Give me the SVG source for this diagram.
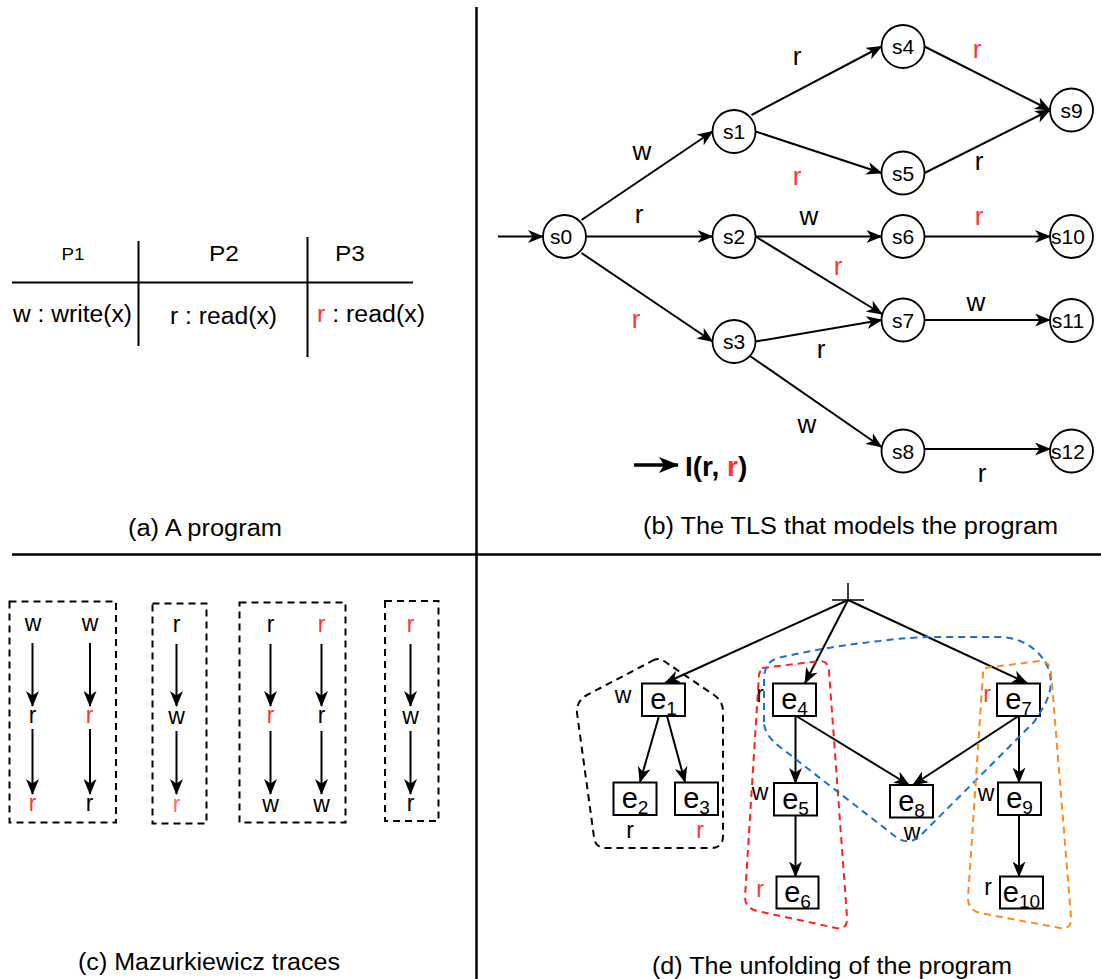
<svg xmlns="http://www.w3.org/2000/svg" width="1101" height="979" viewBox="0 0 1101 979">
<style>
text{font-family:"Liberation Sans",Arial,sans-serif;fill:#000}
.red{fill:#ff3333}
.pink{fill:#ff6b6b}
.cap{font-size:23px}
.lbl{font-size:26px;text-anchor:middle}
.sl{font-size:21px;text-anchor:middle}
.tl{font-size:23px;text-anchor:middle}
.el{font-size:23px;text-anchor:middle}
.ev{font-size:29px;text-anchor:middle}
.sub{font-size:19px}
.div{stroke:#000;stroke-width:2.5}
.tline{stroke:#000;stroke-width:2}
.st{fill:#fff;stroke:#000;stroke-width:1.8}
.bx{fill:#fff;stroke:#000;stroke-width:2}
.e{stroke:#000;stroke-width:2;fill:none;marker-end:url(#ah)}
.dash{fill:none;stroke-width:2;stroke-dasharray:7 5}
</style>
<defs>
<marker id="ah" viewBox="0 0 16 13" refX="15" refY="6.5" markerWidth="16" markerHeight="13" markerUnits="userSpaceOnUse" orient="auto">
<path d="M0,0 L16,6.5 L0,13 L4.5,6.5 Z" fill="#000"/>
</marker>
<marker id="ahL" viewBox="0 0 20 16" refX="19" refY="8" markerWidth="20" markerHeight="16" markerUnits="userSpaceOnUse" orient="auto">
<path d="M0,0 L20,8 L0,16 L5,8 Z" fill="#000"/>
</marker>
</defs>
<rect width="1101" height="979" fill="#fff"/>

<g id="dividers">
<line class="div" x1="476.5" y1="7" x2="476.5" y2="979"/>
<line class="div" x1="12" y1="554.5" x2="1101" y2="554.5"/>
</g>

<g id="captions">
<text class="cap" x="128" y="536" textLength="154" lengthAdjust="spacingAndGlyphs">(a) A program</text>
<text class="cap" x="643" y="534" textLength="415" lengthAdjust="spacingAndGlyphs">(b) The TLS that models the program</text>
<text class="cap" x="78" y="970" textLength="262" lengthAdjust="spacingAndGlyphs">(c) Mazurkiewicz traces</text>
<text class="cap" x="652" y="974" textLength="360" lengthAdjust="spacingAndGlyphs">(d) The unfolding of the program</text>
</g>

<g id="program-table">
<line class="tline" x1="12" y1="282.5" x2="413" y2="282.5"/>
<line class="tline" x1="138.5" y1="241" x2="138.5" y2="346"/>
<line class="tline" x1="307.5" y1="237" x2="307.5" y2="357"/>
<text x="61.5" y="260" style="font-size:17px" textLength="23" lengthAdjust="spacingAndGlyphs">P1</text>
<text x="209" y="261" style="font-size:22px" textLength="30" lengthAdjust="spacingAndGlyphs">P2</text>
<text x="335" y="261" style="font-size:22px" textLength="30" lengthAdjust="spacingAndGlyphs">P3</text>
<text x="13" y="322" style="font-size:23px" textLength="119" lengthAdjust="spacingAndGlyphs">w : write(x)</text>
<text x="170" y="324" style="font-size:23px" textLength="107" lengthAdjust="spacingAndGlyphs">r : read(x)</text>
<text x="317" y="322" style="font-size:23px" textLength="108" lengthAdjust="spacingAndGlyphs"><tspan class="red">r</tspan> : read(x)</text>
</g>

<g id="tls-edges">
<line class="e" x1="498" y1="236.5" x2="543" y2="236.5"/>
<line class="e" x1="581.5" y1="220" x2="712.5" y2="131.5"/>
<line class="e" x1="586" y1="236.5" x2="712.5" y2="236.5"/>
<line class="e" x1="581.5" y1="253" x2="712.5" y2="341.5"/>
<line class="e" x1="751.5" y1="115" x2="881.5" y2="46.5"/>
<line class="e" x1="755.5" y1="131.5" x2="881.5" y2="173"/>
<line class="e" x1="924.5" y1="46.5" x2="1050" y2="110"/>
<line class="e" x1="924.5" y1="173" x2="1050" y2="110"/>
<line class="e" x1="755.5" y1="236.5" x2="881.5" y2="236.5"/>
<line class="e" x1="755.5" y1="236.5" x2="882" y2="314"/>
<line class="e" x1="924.5" y1="236.5" x2="1050" y2="236.5"/>
<line class="e" x1="755.5" y1="341.5" x2="881.5" y2="320"/>
<line class="e" x1="750" y1="356" x2="881.5" y2="447"/>
<line class="e" x1="924.5" y1="320" x2="1050" y2="320"/>
<line class="e" x1="924.5" y1="449" x2="1050" y2="449"/>
</g>
<g id="tls-labels">
<text class="lbl" x="642" y="160">w</text>
<text class="lbl" x="797" y="65">r</text>
<text class="lbl red" x="977" y="58">r</text>
<text class="lbl red" x="797" y="185">r</text>
<text class="lbl" x="979" y="170">r</text>
<text class="lbl" x="639" y="223">r</text>
<text class="lbl" x="809" y="225">w</text>
<text class="lbl red" x="979" y="225">r</text>
<text class="lbl red" x="838" y="275">r</text>
<text class="lbl red" x="636" y="328">r</text>
<text class="lbl" x="821" y="358">r</text>
<text class="lbl" x="976" y="311">w</text>
<text class="lbl" x="807" y="433">w</text>
<text class="lbl" x="982" y="482">r</text>
</g>
<g id="legend">
<line x1="634" y1="465" x2="678" y2="465" stroke="#000" stroke-width="3.5" marker-end="url(#ahL)"/>
<text x="685" y="476" style="font-size:28px;font-weight:bold">I(r, <tspan class="red">r</tspan>)</text>
</g>
<g id="s0"><circle class="st" cx="564.5" cy="236.5" r="21.5"/><text class="sl" x="561" y="244">s0</text></g>
<g id="s1"><circle class="st" cx="734" cy="131.5" r="21.5"/><text class="sl" x="734" y="139">s1</text></g>
<g id="s2"><circle class="st" cx="734" cy="236.5" r="21.5"/><text class="sl" x="734" y="244">s2</text></g>
<g id="s3"><circle class="st" cx="734" cy="341.5" r="21.5"/><text class="sl" x="734" y="349">s3</text></g>
<g id="s4"><circle class="st" cx="903" cy="46.5" r="21.5"/><text class="sl" x="903" y="54">s4</text></g>
<g id="s5"><circle class="st" cx="903" cy="173" r="21.5"/><text class="sl" x="903" y="180.5">s5</text></g>
<g id="s6"><circle class="st" cx="903" cy="236.5" r="21.5"/><text class="sl" x="903" y="244">s6</text></g>
<g id="s7"><circle class="st" cx="903" cy="320" r="21.5"/><text class="sl" x="903" y="327.5">s7</text></g>
<g id="s8"><circle class="st" cx="903" cy="451" r="21.5"/><text class="sl" x="903" y="458.5">s8</text></g>
<g id="s9"><circle class="st" cx="1071.5" cy="110" r="21.5"/><text class="sl" x="1071.5" y="117.5">s9</text></g>
<g id="s10"><circle class="st" cx="1071.5" cy="236.5" r="21.5"/><text class="sl" x="1068" y="244">s10</text></g>
<g id="s11"><circle class="st" cx="1071.5" cy="320.5" r="21.5"/><text class="sl" x="1068" y="328">s11</text></g>
<g id="s12"><circle class="st" cx="1071.5" cy="451" r="21.5"/><text class="sl" x="1068" y="458.5">s12</text></g>

<g id="trace-boxes">
<rect class="dash" stroke="#000" x="9.5" y="601.5" width="106.5" height="221"/>
<rect class="dash" stroke="#000" x="152.5" y="603.5" width="54" height="220"/>
<rect class="dash" stroke="#000" x="239.5" y="602.5" width="106" height="220"/>
<rect class="dash" stroke="#000" x="385" y="601" width="53.5" height="220"/>
</g>
<g id="trace-edges">
<line class="e" x1="32.5" y1="643" x2="32.5" y2="706"/>
<line class="e" x1="32.5" y1="729" x2="32.5" y2="794"/>
<line class="e" x1="90" y1="643" x2="90" y2="706"/>
<line class="e" x1="90" y1="729" x2="90" y2="794"/>
<line class="e" x1="176.5" y1="644" x2="176.5" y2="706"/>
<line class="e" x1="176.5" y1="731" x2="176.5" y2="794"/>
<line class="e" x1="270.5" y1="644" x2="270.5" y2="706"/>
<line class="e" x1="270.5" y1="731" x2="270.5" y2="794"/>
<line class="e" x1="321.5" y1="644" x2="321.5" y2="706"/>
<line class="e" x1="321.5" y1="731" x2="321.5" y2="794"/>
<line class="e" x1="410.5" y1="644" x2="410.5" y2="706"/>
<line class="e" x1="410.5" y1="731" x2="410.5" y2="794"/>
</g>
<g id="trace-labels">
<text class="tl" x="33" y="631">w</text>
<text class="tl" x="32.5" y="723">r</text>
<text class="tl red" x="32.5" y="811">r</text>
<text class="tl" x="90" y="631">w</text>
<text class="tl red" x="89.5" y="723">r</text>
<text class="tl" x="89.5" y="811">r</text>
<text class="tl" x="176.5" y="632">r</text>
<text class="tl" x="176.5" y="724">w</text>
<text class="tl pink" x="176.5" y="812">r</text>
<text class="tl" x="270.5" y="632">r</text>
<text class="tl red" x="270.5" y="723">r</text>
<text class="tl" x="270.5" y="812">w</text>
<text class="tl red" x="321.5" y="632">r</text>
<text class="tl" x="321.5" y="723">r</text>
<text class="tl" x="321.5" y="812">w</text>
<text class="tl red" x="410.5" y="632">r</text>
<text class="tl" x="410.5" y="724">w</text>
<text class="tl" x="410.5" y="811">r</text>
</g>

<g id="bottom">
<line x1="848" y1="583" x2="848" y2="600" stroke="#000" stroke-width="1.5"/>
<line x1="832" y1="600" x2="864" y2="600" stroke="#000" stroke-width="1.5"/>
</g>
<g id="unfold-edges">
<line class="e" x1="848" y1="600" x2="665" y2="683"/>
<line class="e" x1="848" y1="600" x2="805" y2="683"/>
<line class="e" x1="848" y1="600" x2="1027" y2="683"/>
<line class="e" x1="659" y1="716" x2="640" y2="782"/>
<line class="e" x1="667" y1="716" x2="685" y2="782"/>
<line class="e" x1="795.5" y1="716" x2="795.5" y2="783"/>
<line class="e" x1="797" y1="716.5" x2="909" y2="785"/>
<line class="e" x1="795.5" y1="815.5" x2="795.5" y2="876.5"/>
<line class="e" x1="1018.5" y1="716" x2="913" y2="785"/>
<line class="e" x1="1019" y1="716" x2="1019" y2="782.5"/>
<line class="e" x1="1019" y1="815" x2="1019" y2="876.5"/>
</g>
<g id="e1"><rect class="bx" x="642" y="683.5" width="43" height="32.5"/><text class="ev" x="663.5" y="709">e<tspan class="sub" dy="6">1</tspan></text></g>
<g id="e2"><rect class="bx" x="613.5" y="782.5" width="43" height="32.5"/><text class="ev" x="635" y="808">e<tspan class="sub" dy="6">2</tspan></text></g>
<g id="e3"><rect class="bx" x="675" y="782.5" width="43" height="32.5"/><text class="ev" x="696.5" y="808">e<tspan class="sub" dy="6">3</tspan></text></g>
<g id="e4"><rect class="bx" x="773" y="683.5" width="43" height="32.5"/><text class="ev" x="794.5" y="709">e<tspan class="sub" dy="6">4</tspan></text></g>
<g id="e5"><rect class="bx" x="774" y="783" width="43" height="32.5"/><text class="ev" x="795.5" y="808.5">e<tspan class="sub" dy="6">5</tspan></text></g>
<g id="e6"><rect class="bx" x="776.5" y="876.5" width="42" height="32"/><text class="ev" x="797.5" y="902">e<tspan class="sub" dy="6">6</tspan></text></g>
<g id="e7"><rect class="bx" x="997" y="683.5" width="43" height="32.5"/><text class="ev" x="1018.5" y="709">e<tspan class="sub" dy="6">7</tspan></text></g>
<g id="e8"><rect class="bx" x="890" y="785" width="43" height="32.5"/><text class="ev" x="911.5" y="810.5">e<tspan class="sub" dy="6">8</tspan></text></g>
<g id="e9"><rect class="bx" x="998" y="782.5" width="43" height="32.5"/><text class="ev" x="1019.5" y="808">e<tspan class="sub" dy="6">9</tspan></text></g>
<g id="e10"><rect class="bx" x="1000" y="876.5" width="43" height="32"/><text class="ev" x="1021.5" y="902">e<tspan class="sub" dy="6">10</tspan></text></g>
<g id="unfold-labels">
<text class="el" x="623" y="703">w</text>
<text class="el" x="760" y="702">r</text>
<text class="el" x="760" y="800">w</text>
<text class="el red" x="760" y="897">r</text>
<text class="el" x="630" y="838">r</text>
<text class="el red" x="700" y="838">r</text>
<text class="el red" x="987" y="702">r</text>
<text class="el" x="912" y="840">w</text>
<text class="el" x="986" y="801">w</text>
<text class="el" x="988" y="895">r</text>
</g>
<g id="hulls">
<path class="dash" stroke="#000" d="M652,661 Q658,657 664,661 L714,695 Q723,701 723,712 L723,836 Q723,848 711,848 L606,848 Q595,848 594,837 L577,713 Q576,701 587,695 Z"/>
<path class="dash" stroke="#ff2020" d="M762,668 L820,661 Q828,661 829,671 L847,917 Q848,930 836,928 L757,911 Q745,908 745,897 L759,674 Z"/>
<path class="dash" stroke="#1a70d0" d="M764,722 L764,680 Q764,662 778,658 Q830,646 880,641 Q910,637 935,637 L1000,637 Q1025,638 1040,655 Q1058,676 1046,702 Q1041,712 1034,722 L920,836 Q909,846 896,837 L780,747 Q764,735 764,722 Z"/>
<path class="dash" stroke="#ff8c1a" d="M985,668 L1040,661 Q1050,661 1051,672 L1071,917 Q1072,930 1060,928 L980,913 Q968,910 968,898 L983,673 Z"/>
</g>
</svg>
